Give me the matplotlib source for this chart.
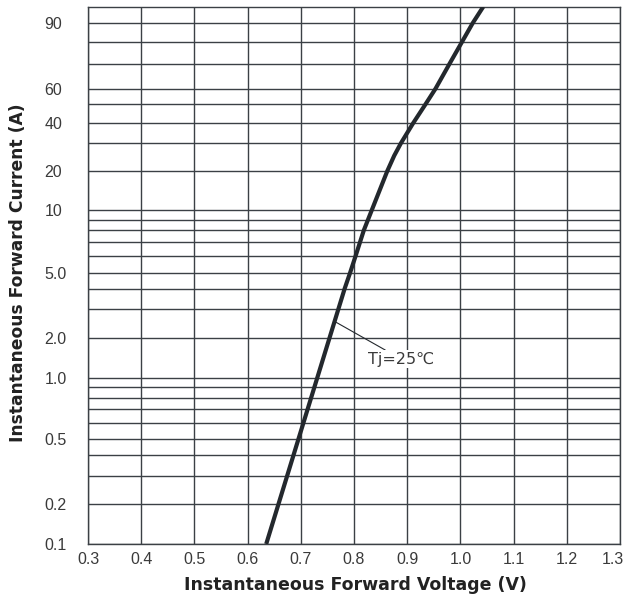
#------------------------------------------------------------
# plot.py
#
# Forward characteristic of the diode: instantaneous forward
# current against instantaneous forward voltage at Tj=25C,
# drawn on the datasheet style log grid.
#------------------------------------------------------------

import numpy as np
import matplotlib
matplotlib.use('Agg')
import matplotlib.pyplot as plt
import matplotlib.transforms as mtransforms
from matplotlib.ticker import FixedLocator, NullFormatter

# curve data (V, A)
forward_voltage = [0.635, 0.7825, 0.7927, 0.8028, 0.8184, 0.8333, 0.8626, 0.8756,
                   0.8883, 0.911, 0.9344, 0.9532, 0.9795, 1.0026, 1.0229, 1.043]
forward_current = [0.1, 4.0, 5.0, 6.0, 8.0, 10, 20, 25,
                   30, 40, 50, 60, 70, 80, 90, 100]

# axis ticks
x_ticks = [0.3, 0.4, 0.5, 0.6, 0.7, 0.8, 0.9, 1.0, 1.1, 1.2, 1.3]
x_tick_labels = ['0.3', '0.4', '0.5', '0.6', '0.7', '0.8', '0.9', '1.0', '1.1', '1.2', '1.3']
y_ticks = [0.1, 0.2, 0.5, 1.0, 2.0, 5.0, 10, 20, 40, 60, 90]
y_tick_labels = ['0.1', '0.2', '0.5', '1.0', '2.0', '5.0', '10', '20', '40', '60', '90']
y_grid_minor = [0.3, 0.4, 0.6, 0.7, 0.8, 0.9, 3, 4, 6, 7, 8, 9, 30, 50, 70, 80]

curve_label = 'Tj=25\u2103'

# the printed log grid is not a true log scale - each labelled value
# sits at its own height, so the scale is log-linear between these anchors
scale_values = [0.1, 0.2, 0.5, 1.0, 2.0, 5.0, 10, 20, 40, 60, 90, 100]
scale_heights = [0.0, 39.7, 104.7, 166.3, 206.3, 271.3, 333.7, 373.0, 420.7, 455.3, 520.7, 537.3]

GRID_COLOR = '#3b4045'
CURVE_COLOR = '#23282d'
TEXT_COLOR = '#3a3a3a'
TICK_FONT = ['Liberation Sans Narrow', 'Liberation Sans', 'DejaVu Sans']


def current_to_height(values):
    logs = np.log10(np.clip(np.asarray(values, dtype=float), 1e-6, None))
    return np.interp(logs, np.log10(scale_values), scale_heights,
                     left=-100.0, right=700.0)


def height_to_current(heights):
    logs = np.interp(np.asarray(heights, dtype=float), scale_heights, np.log10(scale_values))
    return 10 ** logs


def graph_forward_curve(output_file_name):

    fig = plt.figure(figsize=(6.29, 5.98), dpi=100)
    ax1 = fig.add_axes([88 / 629, 54 / 598, 532 / 629, 537.3 / 598])

    ax1.set_yscale('function', functions=(current_to_height, height_to_current))
    ax1.set_xlim(0.3, 1.3)
    ax1.set_ylim(0.1, 100)

    # ticks and grid
    ax1.xaxis.set_major_locator(FixedLocator(x_ticks))
    ax1.set_xticklabels(x_tick_labels)
    ax1.yaxis.set_major_locator(FixedLocator(y_ticks))
    ax1.set_yticklabels(y_tick_labels)
    ax1.yaxis.set_minor_locator(FixedLocator(y_grid_minor))
    ax1.yaxis.set_minor_formatter(NullFormatter())

    ax1.tick_params(axis='both', which='both', length=0, colors=TEXT_COLOR, labelsize=11.5)
    ax1.tick_params(axis='x', pad=6)
    ax1.tick_params(axis='y', pad=31.5)
    for lbl in ax1.get_yticklabels():
        lbl.set_horizontalalignment('left')
    for lbl in ax1.get_xticklabels() + ax1.get_yticklabels():
        lbl.set_family(TICK_FONT)

    # last voltage label sits a little inside the right edge
    last_lbl = ax1.get_xticklabels()[-1]
    last_lbl.set_transform(last_lbl.get_transform() +
                           mtransforms.ScaledTranslation(-5 / 72, 0, fig.dpi_scale_trans))

    ax1.grid(which='major', axis='both', color=GRID_COLOR, linewidth=1.0)
    ax1.grid(which='minor', axis='y', color=GRID_COLOR, linewidth=1.0)
    ax1.set_axisbelow(True)

    for side in ['left', 'bottom', 'top', 'right']:
        ax1.spines[side].set_color(GRID_COLOR)
        ax1.spines[side].set_linewidth(1.0)

    # the forward curve
    ax1.plot(forward_voltage, forward_current, color=CURVE_COLOR, lw=3.0,
             solid_capstyle='butt', solid_joinstyle='round', zorder=3)

    # curve label with leader line
    ax1.annotate(curve_label, xy=(0.765, 2.5), xytext=(0.827, 1.57),
                 fontsize=11.5, color=TEXT_COLOR, va='top', ha='left',
                 family=['DejaVu Sans'],
                 bbox=dict(boxstyle='square,pad=0.1', fc='white', ec='none'),
                 arrowprops=dict(arrowstyle='-', color=CURVE_COLOR, lw=0.8,
                                 shrinkA=0, shrinkB=0),
                 zorder=4)

    # axis titles
    fig.text(355 / 629, 1 - 585 / 598, 'Instantaneous Forward Voltage (V)',
             ha='center', va='center', fontsize=12.5, fontweight='bold',
             color='#222222', family=['DejaVu Sans'])
    fig.text(18 / 629, 1 - 273 / 598, 'Instantaneous Forward Current (A)',
             ha='center', va='center', rotation=90, fontsize=12.3, fontweight='bold',
             color='#222222', family=['DejaVu Sans'])

    plt.savefig(output_file_name, dpi=100)

    return


if __name__ == "__main__":

    graph_forward_curve('out.png')
